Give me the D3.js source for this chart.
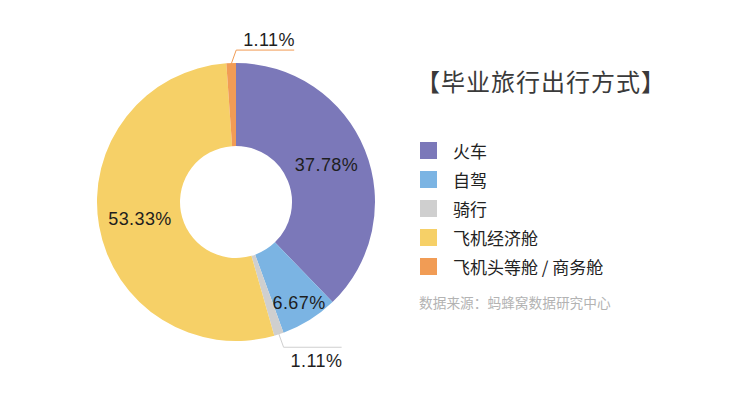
<!DOCTYPE html>
<html>
<head>
<meta charset="utf-8">
<script src="https://cdn.jsdelivr.net/npm/d3@7"></script>
<style>
  html, body { margin: 0; padding: 0; background: #fff; }
  svg { display: block; }
  text { font-family: "Liberation Sans", Arial, "Noto Sans CJK SC", sans-serif; }
  .cjk { font-family: "Noto Sans CJK SC", sans-serif; }
</style>
</head>
<body>
<svg id="chart" width="756" height="410"></svg>
<script>
// 数据
const categories = ['火车', '自驾', '骑行', '飞机经济舱', '飞机头等舱 / 商务舱']
const values = [37.78, 6.67, 1.11, 53.33, 1.11]
const colors = ['#7b78b9', '#7bb4e3', '#cfcfcf', '#f6d067', '#f19c55']
const title = '【毕业旅行出行方式】'
const source = '数据来源：蚂蜂窝数据研究中心'

const width = 756
const height = 410
const cx = 236
const cy = 202
const outerR = 139
const innerR = 56

const svg = d3.select('#chart')

const pie = d3.pie().sort(null).value(d => d)
const arcs = pie(values)

const arc = d3.arc().innerRadius(innerR).outerRadius(outerR)

const g = svg.append('g').attr('transform', `translate(${cx},${cy})`)

g.selectAll('path.slice')
  .data(arcs)
  .enter()
  .append('path')
  .attr('class', 'slice')
  .attr('d', arc)
  .attr('fill', (d, i) => colors[i])

const fmt = v => v.toFixed(2) + '%'

// 内部标签（大扇区）
const midArc = d3.arc().innerRadius(innerR).outerRadius(outerR)
const smallArc = d3.arc().innerRadius(outerR - 20).outerRadius(outerR - 20)

arcs.forEach((d, i) => {
  if (d.value < 2) return
  const p = d.value < 10 ? smallArc.centroid(d) : midArc.centroid(d)
  g.append('text')
    .attr('x', p[0])
    .attr('y', p[1])
    .attr('text-anchor', 'middle')
    .attr('dominant-baseline', 'central')
    .attr('font-size', 18)
    .attr('letter-spacing', 0.4)
    .attr('fill', '#1e1e1e')
    .text(fmt(d.value))
})

// 外部标签 + 引导线（小扇区）
const edgeArc = d3.arc().innerRadius(outerR - 1).outerRadius(outerR - 1)
arcs.forEach((d, i) => {
  if (d.value >= 2) return
  const p = edgeArc.centroid(d)
  const dir = p[1] < 0 ? -1 : 1
  const elbow = [p[0] + 5, p[1] + dir * 14]
  const end = [elbow[0] + 58, elbow[1]]
  g.append('polyline')
    .attr('points', [p, elbow, end].map(q => q.join(',')).join(' '))
    .attr('fill', 'none')
    .attr('stroke', colors[i])
    .attr('stroke-width', 1)
  g.append('text')
    .attr('x', elbow[0] + 7)
    .attr('y', dir < 0 ? elbow[1] - 4.5 : elbow[1] + 20)
    .attr('font-size', 18)
    .attr('letter-spacing', 0.4)
    .attr('fill', '#1e1e1e')
    .text(fmt(d.value))
})

// 标题
svg.append('text')
  .attr('class', 'cjk')
  .attr('x', 416)
  .attr('y', 80)
  .attr('dominant-baseline', 'central')
  .attr('font-size', 24)
  .attr('letter-spacing', 1)
  .attr('fill', '#3a3a3a')
  .text(title)

// 图例
const legend = svg.append('g')
  .selectAll('g')
  .data(categories)
  .enter()
  .append('g')
  .attr('transform', (d, i) => `translate(420,${150.5 + i * 29})`)

legend.append('rect')
  .attr('x', 0)
  .attr('y', -8.5)
  .attr('width', 17)
  .attr('height', 17)
  .attr('fill', (d, i) => colors[i])

legend.append('text')
  .attr('class', 'cjk')
  .attr('x', 33)
  .attr('y', 0)
  .attr('dominant-baseline', 'central')
  .attr('font-size', 17)
  .attr('fill', '#222')
  .text(d => d)

// 数据来源
svg.append('text')
  .attr('class', 'cjk')
  .attr('x', 419)
  .attr('y', 302)
  .attr('dominant-baseline', 'central')
  .attr('font-size', 13.7)
  .attr('fill', '#b3b3b3')
  .text(source)
</script>
</body>
</html>
